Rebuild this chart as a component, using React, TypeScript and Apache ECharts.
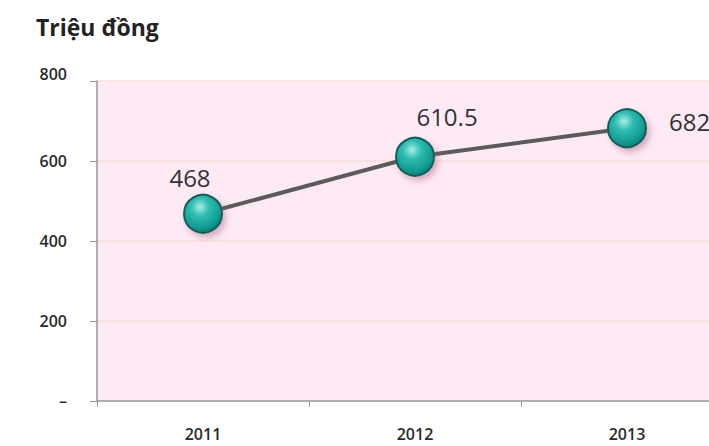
import React, { useEffect, useRef } from "react";
import * as echarts from "echarts";

const categories = ["2011", "2012", "2013"];
const values = [468, 610.5, 682];
const yTicks = [0, 200, 400, 600, 800];
const title = "Triệu đồng";

export default function App() {
  const ref = useRef<HTMLDivElement>(null);
  useEffect(() => {
    if (!ref.current) return;
    const chart = echarts.init(ref.current, undefined, { renderer: "svg" });
    const font = "'Open Sans', 'Noto Sans', sans-serif";
    const sphere = new echarts.graphic.RadialGradient(0.42, 0.32, 0.7, [
      { offset: 0, color: "#a8ece4" },
      { offset: 0.35, color: "#2fbcb0" },
      { offset: 0.8, color: "#109a90" },
      { offset: 1, color: "#0a7c74" },
    ]);
    const labelPos: any[] = [
      { position: "top", distance: 4, offset: [-13, 0] },
      { position: "top", distance: 8, offset: [32, 0] },
      { position: "right", distance: 22, offset: [0, -7] },
    ];
    chart.setOption({
      animation: false,
      backgroundColor: "#ffffff",
      title: {
        text: title,
        left: 31,
        top: 10,
        textStyle: { fontFamily: font, fontSize: 23, fontWeight: "bold", color: "#222" },
      },
      grid: {
        left: 97,
        top: 81,
        right: 2,
        height: 320,
        show: true,
        backgroundColor: "#fdeaf5",
        borderWidth: 0,
      },
      xAxis: {
        type: "category",
        data: categories,
        boundaryGap: true,
        axisLine: { lineStyle: { color: "#9a9a9a", width: 1.5 } },
        axisTick: { show: true, length: 6, lineStyle: { color: "#9a9a9a" } },
        axisLabel: { margin: 25, fontFamily: font, fontSize: 16, fontWeight: 600, color: "#2a2a2a" },
        splitLine: { show: false },
      },
      yAxis: {
        type: "value",
        min: 0,
        max: 800,
        interval: 200,
        axisLine: { show: true, lineStyle: { color: "#9a9a9a", width: 1.5 } },
        axisTick: { show: true, length: 7, lineStyle: { color: "#9a9a9a" } },
        axisLabel: {
          margin: 30,
          fontFamily: font,
          fontSize: 16,
          fontWeight: 600,
          color: "#2a2a2a",
          formatter: (v: number) =>
            v === 0 ? "–" : v === yTicks[yTicks.length - 1] ? "{top|" + v + "}" : String(v),
          rich: {
            top: { fontFamily: font, fontSize: 16, fontWeight: 600, color: "#2a2a2a", padding: [0, 0, 14, 0] },
          },
        },
        splitLine: { show: true, lineStyle: { color: "#f7dede", width: 1.5 } },
      },
      series: [
        {
          type: "line",
          data: values.map((v, i) => ({
            value: v,
            label: {
              show: true,
              ...labelPos[i],
              fontFamily: font,
              fontSize: 24,
              color: "#333",
            },
          })),
          lineStyle: { color: "#5b5b5b", width: 4 },
          symbol: "circle",
          symbolSize: 38,
          itemStyle: {
            color: sphere,
            borderColor: "#0b5f59",
            borderWidth: 2,
            shadowBlur: 6,
            shadowColor: "rgba(170,90,120,0.45)",
            shadowOffsetX: 3,
            shadowOffsetY: 4,
          },
          z: 3,
        },
      ],
    });
    return () => chart.dispose();
  }, []);
  return (
    <div style={{ width: 709, height: 446, position: "absolute", left: 0, top: 0, overflow: "hidden" }}>
      <div ref={ref} style={{ width: 735, height: 446 }} />
    </div>
  );
}
